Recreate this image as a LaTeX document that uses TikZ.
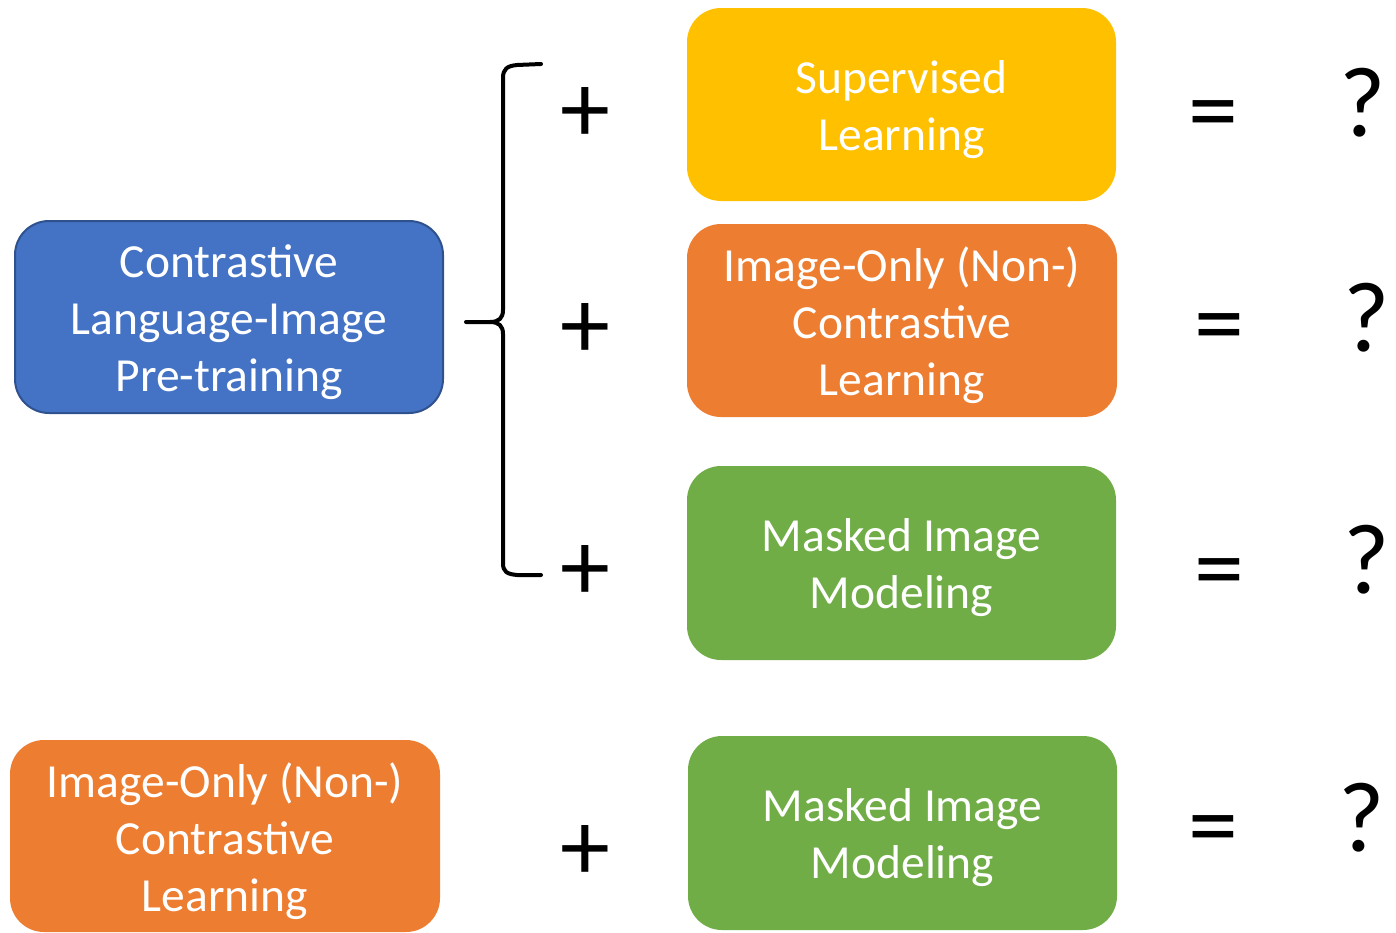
\documentclass[tikz,border=0pt]{standalone}
\usepackage{fontspec}
\setmainfont{Carlito}
\begin{document}
\begin{tikzpicture}[x=1pt,y=-1pt,
  box/.style={rounded corners=34pt,inner sep=0pt,minimum width=#1},
  box/.default=429pt,
  boxtext/.style={text=white,align=center,inner sep=0pt,yshift=-5pt,
    font=\fontsize{47.5}{57}\selectfont},
  sym/.style={anchor=base,inner sep=0pt,font=\fontsize{100}{100}\selectfont},
  brace/.style={line width=4pt,line cap=round,line join=round}]
\useasboundingbox (0,0) rectangle (1396,932);
\definecolor{cblue}{HTML}{4472C4}
\definecolor{cblueline}{HTML}{2F528F}
\definecolor{corange}{HTML}{ED7D31}
\definecolor{cgreen}{HTML}{70AD47}
\definecolor{cyellow}{HTML}{FFC000}

% boxes
\node[box=428pt,minimum height=192pt,fill=cblue,draw=cblueline,line width=2pt]
  (clip) at (229,317) {};
\node[box,minimum height=193pt,fill=cyellow] (sup) at (901.5,104.5) {};
\node[box=430pt,minimum height=193pt,fill=corange] (ssl) at (902,320.5) {};
\node[box,minimum height=194pt,fill=cgreen] (mim) at (901.5,563) {};
\node[box=430pt,minimum height=192pt,fill=corange] (ssl2) at (225,836) {};
\node[box,minimum height=194pt,fill=cgreen] (mim2) at (902.5,833) {};

% box labels
\node[boxtext] (clipT) at (clip.center) {Contrastive\\Language-Image\\Pre-training};
\node[boxtext] (supT) at (sup.center) {Supervised\\Learning};
\node[boxtext] (sslT) at (ssl.center) {Image-Only (Non-)\\Contrastive\\Learning};
\node[boxtext] (mimT) at (mim.center) {Masked Image\\Modeling};
\node[boxtext] (ssl2T) at (ssl2.center) {Image-Only (Non-)\\Contrastive\\Learning};
\node[boxtext] (mim2T) at (mim2.center) {Masked Image\\Modeling};

% curly brace
\draw[brace] (541,64) -- (517,65) .. controls (507,66) and (503,69) .. (503,78)
  -- (503,310) .. controls (503,318) and (499,322) .. (490,322) -- (466,322);
\draw[brace] (490,322) .. controls (499,322) and (503,326) .. (503,334)
  -- (503,563) .. controls (503,572) and (507,574) .. (517,575) -- (541,575);

% operators
\node[sym] (p1) at (585,142) {+};
\node[sym] (p2) at (585,358) {+};
\node[sym] (p3) at (585,600) {+};
\node[sym] (p4) at (585,880) {+};
\node[sym] (e1) at (1213,143) {=};
\node[sym] (e2) at (1219,356) {=};
\node[sym] (e3) at (1219,601) {=};
\node[sym] (e4) at (1213,858) {=};
\node[sym] (q1) at (1363,136) {?};
\node[sym] (q2) at (1367,351) {?};
\node[sym] (q3) at (1367,593) {?};
\node[sym] (q4) at (1362,851) {?};
\end{tikzpicture}
\end{document}
